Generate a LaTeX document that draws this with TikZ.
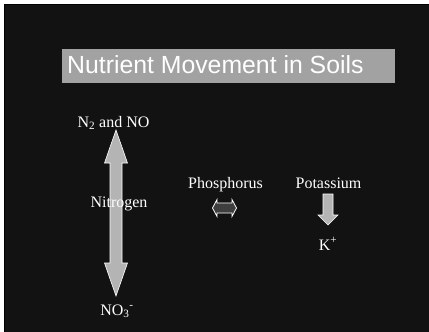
\documentclass[tikz,border=0pt]{standalone}
\usepackage{fontspec}
\setmainfont{Liberation Serif}
\newfontfamily\titlefont{Liberation Sans}
\definecolor{bgdark}{HTML}{121212}
\definecolor{titlegray}{HTML}{A2A2A2}
\definecolor{arrowgray}{HTML}{B4B4B4}
\definecolor{darkfill}{HTML}{3E3E3E}
\tikzset{
  lbl/.style={text=white, inner sep=0pt, anchor=base, font=\fontsize{16}{18}\selectfont},
  bigarrow/.style={fill=arrowgray, draw=white, line width=0.6pt, line join=miter},
  smallarrow/.style={fill=darkfill, draw=white, line width=0.8pt, line join=miter}
}
\begin{document}
\begin{tikzpicture}[x=1pt,y=-1pt]
\useasboundingbox (0,0) rectangle (429,332);
\fill[white] (0,0) rectangle (429,332);
\fill[black] (4,4) rectangle (429,332);
\fill[bgdark] (5,5) rectangle (429,332);
% title
\fill[titlegray] (62,49) rectangle (395,83);
\node[anchor=base west, inner sep=0pt, text=white, font=\titlefont\fontsize{24.8}{28}\selectfont] (title) at (67,73) {Nutrient Movement in Soils};
% nitrogen arrow
\draw[bigarrow] (116,130) -- (127.5,163) -- (122,163) -- (122,263) -- (127.5,263) -- (116,296)
  -- (104.5,263) -- (110,263) -- (110,163) -- (104.5,163) -- cycle;
\node[lbl] (n2) at (113.5,127) {N\textsubscript{2} and NO};
\node[lbl] (nitrogen) at (119,207) {Nitrogen};
\node[lbl] (no3) at (117,315) {NO\textsubscript{3}\textsuperscript{-}};
% phosphorus
\node[lbl] (phos) at (225.5,188) {Phosphorus};
\draw[smallarrow] (212.5,208) -- (217,199.5) -- (217,203) -- (232,203) -- (232,199.5) -- (236.5,208)
  -- (232,216.5) -- (232,213) -- (217,213) -- (217,216.5) -- cycle;
% potassium
\node[lbl] (potas) at (328.5,188) {Potassium};
\draw[bigarrow] (323,194) -- (333,194) -- (333,215) -- (338,215) -- (328,225) -- (318,215) -- (323,215) -- cycle;
\node[lbl] (kplus) at (328,250) {K\textsuperscript{+}};
\end{tikzpicture}
\end{document}
